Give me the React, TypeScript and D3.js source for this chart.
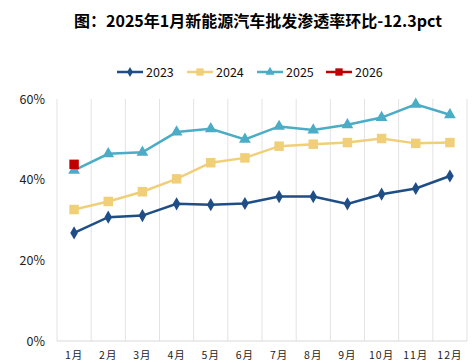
import React from 'react';
import * as d3 from 'd3';

const months = ['1月', '2月', '3月', '4月', '5月', '6月', '7月', '8月', '9月', '10月', '11月', '12月'];
const y2023 = [26.8, 30.7, 31.1, 34.0, 33.8, 34.1, 35.8, 35.8, 34.0, 36.4, 37.8, 40.9];
const y2024 = [32.6, 34.6, 37.0, 40.2, 44.2, 45.4, 48.3, 48.8, 49.2, 50.2, 49.0, 49.2];
const y2025 = [42.3, 46.4, 46.8, 51.8, 52.6, 50.0, 53.2, 52.3, 53.6, 55.4, 58.7, 56.1];
const y2026 = [43.8];
const yTicks = [0, 20, 40, 60];

const series = [
  { name: '2023', values: y2023, color: '#1F4E87', symbol: d3.symbolDiamond, size: 50 },
  { name: '2024', values: y2024, color: '#F0CF78', symbol: d3.symbolSquare, size: 90 },
  { name: '2025', values: y2025, color: '#4BACC6', symbol: d3.symbolTriangle, size: 60 },
  { name: '2026', values: y2026, color: '#C00000', symbol: d3.symbolSquare, size: 90 },
];

const font = '"Noto Sans CJK SC", "Noto Sans", sans-serif';

export default function App() {
  const width = 476, height = 363;
  const margin = { top: 99, right: 9, bottom: 22, left: 57 };
  const x = d3.scaleBand().domain(months).range([margin.left, width - margin.right]);
  const y = d3.scaleLinear().domain([0, 60]).range([height - margin.bottom, margin.top]);
  const cx = (i: number) => (x(months[i]) ?? 0) + x.bandwidth() / 2;
  const line = d3.line<number>().x((_, i) => cx(i)).y(d => y(d));
  const bounds = months.map(m => x(m) ?? 0).concat([width - margin.right]);

  return (
    <svg width={width} height={height} style={{ position: 'absolute', left: 0, top: 0 }} fontFamily={font}>
      <rect width={width} height={height} fill="#fff" />
      <text x={258} y={27} textAnchor="middle" fontSize={16} fontWeight="bold" fill="#000">
        图：2025年1月新能源汽车批发渗透率环比-12.3pct
      </text>
      {series.map((s, k) => {
        const lx = [117, 187, 257, 326][k];
        return (
          <g key={s.name}>
            <line x1={lx} x2={lx + 26} y1={72} y2={72} stroke={s.color} strokeWidth={2.5} />
            <path d={d3.symbol(s.symbol, s.size * 0.6)() ?? ''} transform={`translate(${lx + 13},72)`} fill={s.color} />
            <text x={lx + 29} y={76.5} fontSize={12.5} fill="#111">{s.name}</text>
          </g>
        );
      })}
      {bounds.map((b, i) => (
        <line key={i} x1={b} x2={b} y1={y(60)} y2={y(0)} stroke="#e3e3e3" strokeWidth={1} />
      ))}
      <line x1={margin.left} x2={width - margin.right} y1={y(0)} y2={y(0)} stroke="#d9d9d9" strokeWidth={1} />
      {yTicks.map(t => (
        <text key={t} x={45} y={y(t) + 4.5} textAnchor="end" fontSize={12.5} fill="#222">{t}%</text>
      ))}
      {months.map((m, i) => (
        <text key={m} x={cx(i)} y={359} textAnchor="middle" fontSize={10.5} fill="#222" letterSpacing={1}>{m}</text>
      ))}
      {series.map(s => (
        <g key={s.name}>
          <path d={line(s.values) ?? ''} fill="none" stroke={s.color} strokeWidth={2.5} />
          {s.values.map((v, i) => (
            <path key={i} d={d3.symbol(s.symbol, s.size)() ?? ''} transform={`translate(${cx(i)},${y(v)})`} fill={s.color} />
          ))}
        </g>
      ))}
    </svg>
  );
}
